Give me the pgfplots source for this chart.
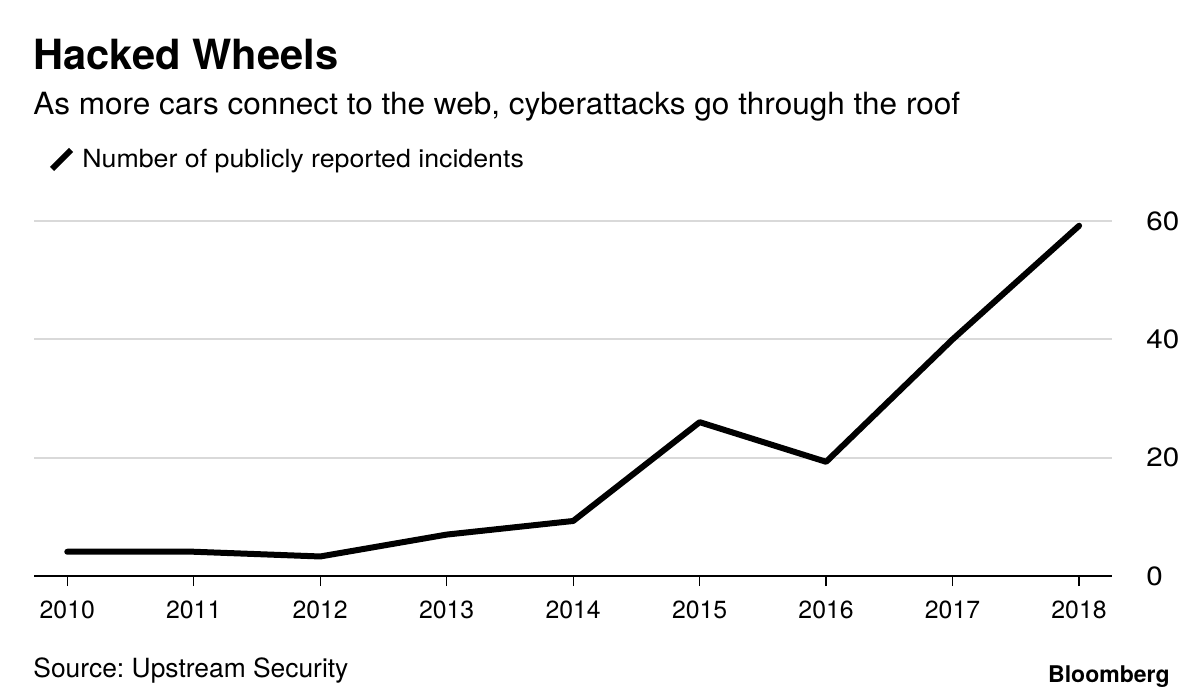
\documentclass[border=0pt]{standalone}
\usepackage{pgfplots}
\pgfplotsset{compat=1.18}
\usepackage{fontspec}
\setmainfont{TeX Gyre Heros}
\newfontfamily\subfont[FakeStretch=1.03]{TeX Gyre Heros}
\newfontfamily\legfont[FakeStretch=1.07]{TeX Gyre Heros}
\newfontfamily\ylabfont[FakeStretch=1.12]{TeX Gyre Heros}
\definecolor{gridgray}{HTML}{D9D9D9}
\frenchspacing
\begin{document}
\begin{tikzpicture}[x=1pt,y=1pt]
\path[use as bounding box] (0,0) rectangle (600,-350);
\begin{axis}[
  at={(17pt,-288pt)}, anchor=south west,
  scale only axis, width=539pt, height=177.5pt,
  xmin=2009.737, xmax=2018.26, ymin=0, ymax=60,
  axis line style={draw=none},
  axis x line*=bottom,
  xtick={2010,...,2018},
  xticklabel style={/pgf/number format/1000 sep={}, font=\fontsize{12.4}{15}\selectfont, yshift=-4pt},
  x tick style={black, line width=0.6pt},
  xtick align=outside, major tick length=5pt,
  ytick={0,20,40,60},
  yticklabel pos=right,
  y tick style={draw=none},
  yticklabel style={font=\fontsize{13.2}{15}\ylabfont, anchor=west, inner sep=0pt, xshift=17pt},
  ymajorgrids, grid style={gridgray, line width=1pt},
  /pgf/number format/assume math mode=true,
  clip=false,
]
\addplot[black, line width=3pt, line join=round, line cap=round] coordinates {
(2010,4.1) (2011,4.1) (2012,3.3) (2013,7) (2014,9.3) (2015,26) (2016,19.3) (2017,40) (2018,59.2)};
\draw[black, line width=0.8pt] (axis cs:2009.737,0) -- (axis cs:2018.26,0);
\end{axis}
\node[anchor=base west, inner sep=0, font=\fontsize{20.8}{24}\selectfont\bfseries] at (16.5,-35) {Hacked Wheels};
\node[anchor=base west, inner sep=0, font=\fontsize{15.3}{18}\subfont] at (16.5,-57.5) {As more cars connect to the web, cyberattacks go through the roof};
\draw[black, line width=3pt] (26,-84.5) -- (35.5,-75);
\node[anchor=base west, inner sep=0, font=\fontsize{12.5}{15}\legfont] at (41,-84) {Number of publicly reported incidents};
\node[anchor=base west, inner sep=0, font=\fontsize{13.2}{15}\selectfont] at (16.5,-338.5) {Source: Upstream Security};
\node[anchor=base east, inner sep=0, font=\fontsize{11.5}{14}\selectfont\bfseries] at (585,-341) {Bloomberg};
\end{tikzpicture}
\end{document}
